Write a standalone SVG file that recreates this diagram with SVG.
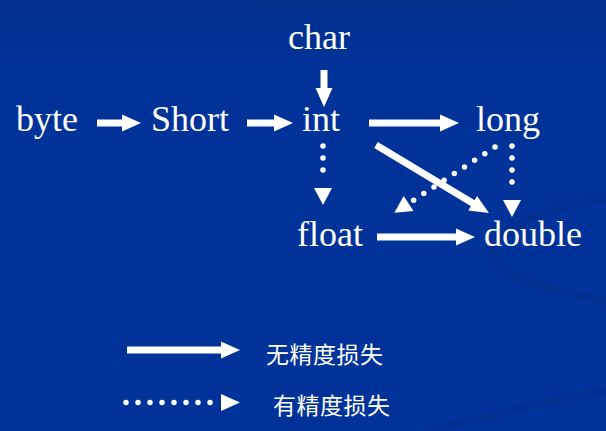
<svg xmlns="http://www.w3.org/2000/svg" width="606" height="431" viewBox="0 0 606 431">
  <style>
    .node { font-family: "Liberation Serif", "Times New Roman", serif; font-size: 36px; fill: #ffffff; }
    .legend-text { font-family: "Noto Sans CJK SC", "Noto Sans", sans-serif; font-size: 23px; fill: #ffffff; letter-spacing: 0.5px; }
    .solid { fill: none; stroke: #ffffff; stroke-width: 7; marker-end: url(#headSolid); }
    .dotted { fill: none; stroke: #ffffff; stroke-width: 5.5; stroke-linecap: round; stroke-dasharray: 0 12; marker-end: url(#headDotted); }
  </style>
  <defs>
    <linearGradient id="bg" x1="0" y1="0" x2="0" y2="1">
      <stop offset="0" stop-color="#002f8b"/>
      <stop offset="0.15" stop-color="#003399"/>
      <stop offset="1" stop-color="#003399"/>
    </linearGradient>
    <marker id="headSolid" markerUnits="userSpaceOnUse" markerWidth="20" markerHeight="18" refX="9" refY="8.5" orient="auto" overflow="visible">
      <path d="M0,0 L19,8.5 L0,17 Z" fill="#ffffff"/>
    </marker>
    <marker id="headDotted" markerUnits="userSpaceOnUse" markerWidth="18" markerHeight="18" refX="-6" refY="9" orient="auto" overflow="visible">
      <path d="M0,0 L17,9 L0,18 Z" fill="#ffffff"/>
    </marker>
  </defs>

  <rect x="0" y="0" width="606" height="431" fill="url(#bg)"/>
  <g id="background-swoosh" fill="#022c80" opacity="0.35">
    <path d="M606,193 C545,203 484,228 487,256 C490,282 560,295 606,306 L606,298 C565,288 500,274 498,254 C497,232 552,208 606,201 Z"/>
    <path d="M420,431 C480,415 550,396 606,386 L606,394 C552,404 492,420 446,431 Z"/>
  </g>

  <g id="connectors">
    <path class="solid" d="M97,123 H131"/>
    <path class="solid" d="M247,123 H283"/>
    <path class="solid" d="M324,70 V97"/>
    <path class="solid" d="M369,123 H449"/>
    <path class="solid" d="M376,145 L480.4,207.8"/>
    <path class="solid" d="M377,237 H465"/>
    <path class="dotted" d="M323,146 V182"/>
    <path class="dotted" d="M512,146 V194"/>
    <path class="dotted" style="stroke-dasharray: 0 12.15" d="M495,147 L413.6,200.2"/>
  </g>

  <g id="node-char"><text class="node" x="288" y="49">char</text></g>
  <g id="node-byte"><text class="node" x="16" y="131">byte</text></g>
  <g id="node-short"><text class="node" x="151" y="131">Short</text></g>
  <g id="node-int"><text class="node" x="302" y="131">int</text></g>
  <g id="node-long"><text class="node" x="476" y="131">long</text></g>
  <g id="node-float"><text class="node" x="297" y="246">float</text></g>
  <g id="node-double"><text class="node" x="484" y="246">double</text></g>

  <g id="legend">
    <path d="M127,350 H230" fill="none" stroke="#ffffff" stroke-width="7" marker-end="url(#headSolid)"/>
    <text class="legend-text" x="266" y="363">无精度损失</text>
    <path d="M126,402.5 H222" fill="none" stroke="#ffffff" stroke-width="5.5" stroke-linecap="round" stroke-dasharray="0 12"/>
    <path d="M221,394 L240,402.5 L221,411 Z" fill="#ffffff"/>
    <text class="legend-text" x="273" y="414">有精度损失</text>
  </g>
</svg>
